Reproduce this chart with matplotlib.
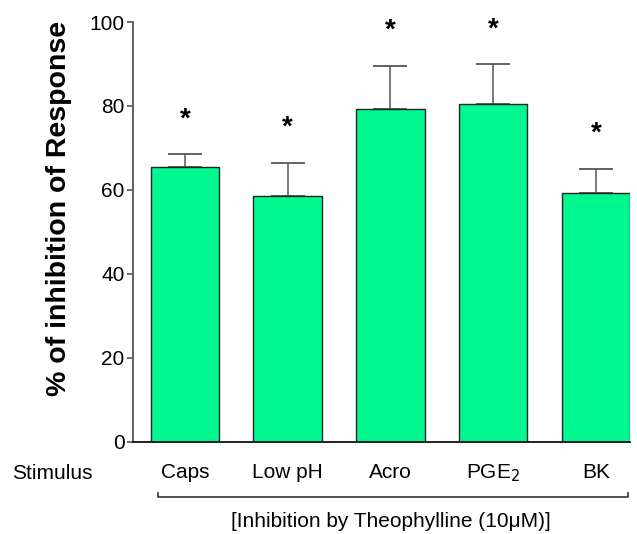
import matplotlib.pyplot as plt
import matplotlib.transforms as mtransforms
import numpy as np

plt.rcParams['font.family'] = ['Liberation Sans', 'DejaVu Sans']

stimuli = ['Caps', 'Low pH', 'Acro', 'PGE$_2$', 'BK']
inhibition = [65.5, 58.5, 79.4, 80.5, 59.4]
sem = [3.0, 7.9, 10.1, 9.4, 5.6]

bar_color = '#00F891'

fig = plt.figure(figsize=(6.37, 5.34), dpi=100)
ax = fig.add_axes([0.2088, 0.1723, 0.7802, 0.7865])

x = np.arange(len(stimuli))
ax.bar(x, inhibition, width=0.667, color=bar_color, edgecolor='#222222', linewidth=1.0, zorder=2)
ax.errorbar(x, inhibition, yerr=[np.zeros(len(sem)), sem], fmt='none', ecolor='#555555',
            elinewidth=1.1, capsize=12, capthick=1.3, zorder=1)

# significance stars above each error bar
for xi, v, e in zip(x, inhibition, sem):
    ax.text(xi, v + e + 6.7, '*', ha='center', va='baseline', fontsize=20, fontweight='bold')

ax.set_xlim(-0.506, 4.333)
ax.set_ylim(0, 100)
ax.set_yticks([0, 20, 40, 60, 80, 100])
ax.tick_params(axis='y', labelsize=15, length=4, width=1.2, color='#555555', pad=2)
ax.set_xticks(x)
ax.set_xticklabels(stimuli)
ax.tick_params(axis='x', labelsize=15, length=0, pad=15)

for side in ['top', 'right']:
    ax.spines[side].set_visible(False)
ax.spines['left'].set_color('#555555')
ax.spines['left'].set_linewidth(1.3)
ax.spines['bottom'].set_color('#111111')
ax.spines['bottom'].set_linewidth(1.3)

fig.text(0.092, 0.609, '% of inhibition of Response', rotation=90, ha='center', va='center',
         fontsize=20.5, fontweight='bold')
fig.text(0.0816, 0.1142, 'Stimulus', ha='center', va='center', fontsize=15)

# bracket under the stimulus names
trans = mtransforms.blended_transform_factory(ax.transData, ax.transAxes)
ax.plot([-0.267, -0.267, 4.31, 4.31], [-0.121, -0.131, -0.131, -0.121], color='#333333',
        linewidth=1.2, transform=trans, clip_on=False)
fig.text(0.614, 0.023, '[Inhibition by Theophylline (10\u03bcM)]', ha='center', va='center', fontsize=15)

fig.savefig('out.png', dpi=100)
